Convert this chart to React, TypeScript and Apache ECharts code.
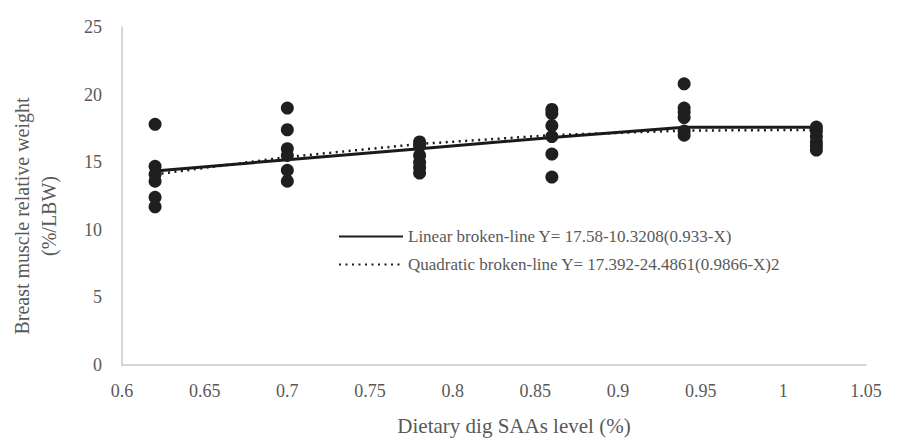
import React, { useEffect, useRef } from "react";
import * as echarts from "echarts";

const levels = [0.62, 0.7, 0.78, 0.86, 0.94, 1.02];
const obsAt062 = [17.8, 14.7, 14.1, 13.6, 12.4, 11.7];
const obsAt070 = [19.0, 17.4, 16.0, 15.5, 14.4, 13.6];
const obsAt078 = [16.5, 16.2, 15.5, 15.0, 14.6, 14.2];
const obsAt086 = [18.9, 18.6, 17.7, 16.9, 15.6, 13.9];
const obsAt094 = [20.8, 19.0, 18.7, 18.3, 17.3, 17.0];
const obsAt102 = [17.6, 17.3, 16.9, 16.5, 16.2, 15.9];
const observations = [obsAt062, obsAt070, obsAt078, obsAt086, obsAt094, obsAt102];

const linearFit = [14.35, 15.18, 16.0, 16.83, 17.58, 17.58];
const quadraticFit = [14.1, 15.38, 16.35, 17.0, 17.34, 17.39];

const linearName = "Linear broken-line Y= 17.58-10.3208(0.933-X)";
const quadName = "Quadratic broken-line Y= 17.392-24.4861(0.9866-X)2";

const FONT = "'Liberation Serif', 'Times New Roman', serif";
const GREY = "#595959";

export default function App() {
  const ref = useRef<HTMLDivElement>(null);
  useEffect(() => {
    if (!ref.current) return;
    const chart = echarts.init(ref.current, undefined, { renderer: "svg" });
    const scatterData: number[][] = [];
    levels.forEach((x, i) => observations[i].forEach((y) => scatterData.push([x, y])));
    chart.setOption({
      animation: false,
      backgroundColor: "#ffffff",
      textStyle: { fontFamily: FONT },
      grid: { left: 118, right: 36, top: 27, bottom: 74 },
      legend: {
        data: [linearName, quadName],
        orient: "vertical",
        left: 333,
        top: 223,
        itemWidth: 64,
        itemHeight: 14,
        itemGap: 11,
        itemStyle: { opacity: 0 },
        textStyle: { color: GREY, fontSize: 17, fontFamily: FONT },
      },
      xAxis: {
        type: "value",
        min: 0.6,
        max: 1.05,
        interval: 0.05,
        splitLine: { show: false },
        axisTick: { show: false },
        axisLine: { show: true, lineStyle: { color: "#c8c8c8", width: 1.5 } },
        axisLabel: {
          color: GREY,
          fontSize: 18,
          fontFamily: FONT,
          margin: 17,
          formatter: (v: number) => String(Math.round(v * 100) / 100),
        },
        name: "Dietary dig SAAs level (%)",
        nameLocation: "middle",
        nameGap: 50,
        nameTextStyle: { color: GREY, fontSize: 21, fontFamily: FONT, padding: [0, 0, 0, 40] },
      },
      yAxis: {
        type: "value",
        min: 0,
        max: 25,
        interval: 5,
        splitLine: { show: false },
        axisTick: { show: false },
        axisLine: { show: true, lineStyle: { color: "#c8c8c8", width: 1.5 } },
        axisLabel: { color: GREY, fontSize: 18, fontFamily: FONT, margin: 20 },
        name: "Breast muscle relative weight\n(%/LBW)",
        nameLocation: "middle",
        nameGap: 60,
        nameTextStyle: {
          color: GREY,
          fontSize: 20,
          fontFamily: FONT,
          lineHeight: 27,
          padding: [0, 40, 0, 0],
        },
      },
      series: [
        {
          name: linearName,
          type: "line",
          data: levels.map((x, i) => [x, linearFit[i]]),
          symbol: "none",
          lineStyle: { color: "#1a1a1a", width: 3 },
          itemStyle: { color: "#1a1a1a" },
          z: 2,
        },
        {
          name: quadName,
          type: "line",
          data: levels.map((x, i) => [x, quadraticFit[i]]),
          symbol: "none",
          lineStyle: { color: "#1a1a1a", width: 2.5, type: [2, 4.5], cap: "butt" },
          itemStyle: { color: "#1a1a1a" },
          z: 2,
        },
        {
          name: "Observed",
          type: "scatter",
          data: scatterData,
          symbolSize: 13,
          itemStyle: { color: "#1f1f1f", opacity: 1 },
          z: 3,
        },
      ],
    });
    return () => chart.dispose();
  }, []);
  return (
    <div
      ref={ref}
      style={{ position: "absolute", left: 0, top: 0, width: 902, height: 441 }}
    />
  );
}
